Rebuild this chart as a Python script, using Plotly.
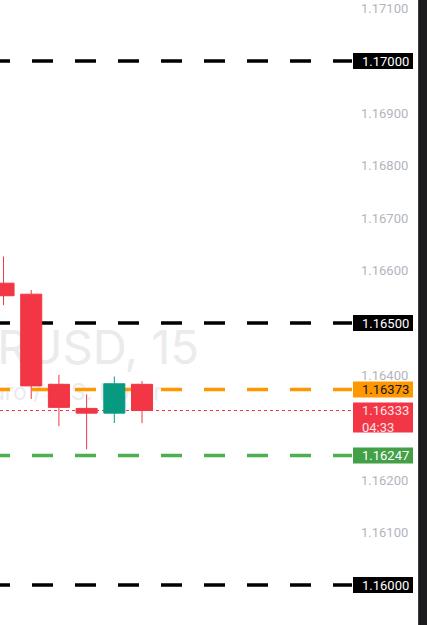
import plotly.graph_objects as go

# ---- data ----
bar_index = [0, 1, 2, 3, 4, 5]
opens  = [1.16576, 1.16555, 1.16383, 1.16337, 1.16328, 1.16383]
highs  = [1.16627, 1.16563, 1.16401, 1.16364, 1.16398, 1.16389]
lows   = [1.16534, 1.16355, 1.16303, 1.16259, 1.16309, 1.16309]
closes = [1.16552, 1.16380, 1.16339, 1.16328, 1.16384, 1.16333]

tick_values = [1.171, 1.169, 1.168, 1.167, 1.166, 1.164, 1.162, 1.161]
tick_labels = ["1.17100", "1.16900", "1.16800", "1.16700", "1.16600",
               "1.16400", "1.16200", "1.16100"]

level_prices = [1.17000, 1.16500, 1.16000]
level_labels = ["1.17000", "1.16500", "1.16000"]
orange_price, orange_label = 1.16373, "1.16373"
green_price, green_label = 1.16247, "1.16247"
last_price, last_label, countdown = 1.16333, "1.16333", "04:33"

symbol_text = "EURUSD, 15"
symbol_desc = "Euro / U.S. Dollar"

RED = "#F23645"
GREEN = "#089981"
ORANGE = "#FF9800"
LGREEN = "#43A047"
FONT = "Roboto"
WM_FONT = "Inter"

W, H = 427, 625
PLOT_W = 352
Y_RANGE = [1.159237, 1.171164]
X_RANGE = [-0.127, 12.58]

fig = go.Figure()
fig.add_trace(go.Candlestick(
    x=bar_index, open=opens, high=highs, low=lows, close=closes,
    increasing=dict(line=dict(color=GREEN, width=1), fillcolor=GREEN),
    decreasing=dict(line=dict(color=RED, width=1), fillcolor=RED),
    whiskerwidth=0, hoverinfo="skip", showlegend=False,
))

shapes = []
x_start = -11 / PLOT_W
# watermark (below everything)
shapes.append(dict(type="rect", xref="paper", yref="y", layer="below",
                   x0=-1, x1=202 / PLOT_W, y0=1.16458 - 0.0004, y1=1.16458 + 0.0004,
                   line=dict(width=0), fillcolor="rgba(0,0,0,0)",
                   label=dict(text=symbol_text, textposition="middle right", padding=0,
                              font=dict(family=WM_FONT, size=47, color="#EBEBEE"))))
shapes.append(dict(type="rect", xref="paper", yref="y", layer="below",
                   x0=-1, x1=165 / PLOT_W, y0=1.16370 - 0.0002, y1=1.16370 + 0.0002,
                   line=dict(width=0), fillcolor="rgba(0,0,0,0)",
                   label=dict(text=symbol_desc, textposition="middle right", padding=0,
                              font=dict(family=WM_FONT, size=23, color="#EBEBEE"))))

for p in level_prices:
    shapes.append(dict(type="line", xref="paper", yref="y", layer="below",
                       x0=x_start, x1=1, y0=p, y1=p,
                       line=dict(color="#000000", width=3.5, dash="21px,22px")))
shapes.append(dict(type="line", xref="paper", yref="y", layer="below",
                   x0=x_start, x1=1, y0=orange_price, y1=orange_price,
                   line=dict(color=ORANGE, width=3.5, dash="21px,22px")))
shapes.append(dict(type="line", xref="paper", yref="y", layer="below",
                   x0=x_start, x1=1, y0=green_price, y1=green_price,
                   line=dict(color="#4CAF50", width=3.5, dash="21px,22px")))
shapes.append(dict(type="line", xref="paper", yref="y", layer="below",
                   x0=0, x1=1, y0=last_price, y1=last_price,
                   line=dict(color=RED, width=1, dash="dot")))
# dark strip at right edge
shapes.append(dict(type="rect", xref="paper", yref="paper", layer="above",
                   x0=418 / PLOT_W, x1=428 / PLOT_W, y0=0, y1=1,
                   line=dict(width=0), fillcolor="#1C1C1E"))
shapes.append(dict(type="line", xref="paper", yref="paper", layer="above",
                   x0=418.5 / PLOT_W, x1=418.5 / PLOT_W, y0=0, y1=1,
                   line=dict(color="#3A3A3C", width=1)))

annotations = []
def price_box(price, text, bg, fg, top=8, bottom=-8, text_shift=0):
    shapes.append(dict(type="rect", xref="paper", yref="y", layer="above",
                       xsizemode="pixel", xanchor=1, x0=1, x1=61,
                       ysizemode="pixel", yanchor=price, y0=bottom, y1=top,
                       line=dict(width=0), fillcolor=bg))
    annotations.append(dict(xref="paper", yref="y", x=1, y=price, xanchor="left",
                            yanchor="middle", xshift=8, yshift=text_shift, text=text,
                            showarrow=False, align="left",
                            font=dict(family=FONT, size=13, color=fg)))

for p, t in zip(level_prices, level_labels):
    price_box(p, t, "#000000", "#FFFFFF")
price_box(orange_price, orange_label, ORANGE, "#131722")
price_box(green_price, green_label, LGREEN, "#FFFFFF")
price_box(last_price, last_label + "<br>" + countdown, RED, "#FFE3E5",
          top=8, bottom=-22, text_shift=-8)

fig.update_layout(
    width=W, height=H,
    margin=dict(l=0, r=W - PLOT_W, t=0, b=0),
    paper_bgcolor="#FFFFFF", plot_bgcolor="#FFFFFF",
    showlegend=False, boxgap=0.24, boxgroupgap=0,
    shapes=shapes, annotations=annotations,
    xaxis=dict(range=X_RANGE, visible=False, rangeslider=dict(visible=False),
               fixedrange=True),
    yaxis=dict(range=Y_RANGE, side="right", showgrid=False, zeroline=False,
               showline=False, ticks="", tickvals=tick_values, ticktext=tick_labels,
               ticklabelstandoff=8,
               tickfont=dict(family=FONT, size=13, color="#B2B5BE"), fixedrange=True),
    font=dict(family=FONT),
)

fig.write_html("out.html", config={"displayModeBar": False})
